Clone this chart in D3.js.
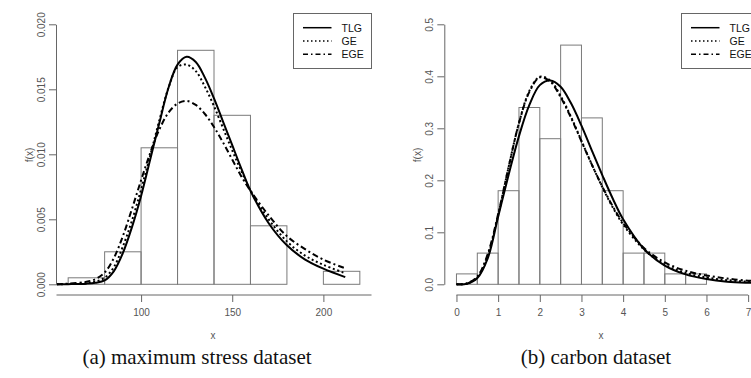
<!DOCTYPE html>
<html>
<head>
<meta charset="utf-8">
<script src="https://cdn.jsdelivr.net/npm/d3@7"></script>
<style>
  body { margin: 0; background: #fff; }
  svg { display: block; font-family: 'Liberation Sans', Arial, sans-serif; }
</style>
</head>
<body>
<svg id="chart" width="751" height="378"></svg>
<script>
// (a) maximum stress: histogram + fitted densities
const stressBins = [60, 80, 100, 120, 140, 160, 180, 200, 220]
const stressDensity = [0.0005, 0.0025, 0.0105, 0.018, 0.013, 0.0045, 0, 0.001]
const stressX = [53.6, 60, 70, 75, 80, 85, 90, 95, 100, 105, 110, 115, 120, 125, 130, 135, 140, 145, 150, 155, 160, 170, 180, 190, 200, 212]
const stressTLG = [0, 0.00001, 0.00005, 0.00012, 0.0003, 0.001, 0.0024, 0.0044, 0.0068, 0.0096, 0.0124, 0.0151, 0.0169, 0.0175, 0.0171, 0.0159, 0.0143, 0.0125, 0.0107, 0.0089, 0.0072, 0.0047, 0.003, 0.0019, 0.0012, 0.00055]
const stressGE = [0, 0.00002, 0.00008, 0.0002, 0.0005, 0.0013, 0.0029, 0.0049, 0.0073, 0.0099, 0.0126, 0.0151, 0.0167, 0.0169, 0.0164, 0.0152, 0.0137, 0.012, 0.0103, 0.0087, 0.0072, 0.005, 0.0033, 0.0022, 0.0015, 0.00085]
const stressEGE = [0, 0.00005, 0.0002, 0.0004, 0.0009, 0.002, 0.0037, 0.0058, 0.008, 0.0101, 0.0119, 0.0132, 0.0139, 0.0141, 0.0138, 0.0131, 0.0121, 0.0109, 0.0096, 0.0083, 0.0072, 0.0053, 0.0037, 0.0027, 0.0019, 0.00123]
const stressXTicks = [100, 150, 200]
const stressYTicks = [0, 0.005, 0.01, 0.015, 0.02]

// (b) carbon
const carbonBins = [0, 0.5, 1, 1.5, 2, 2.5, 3, 3.5, 4, 4.5, 5, 5.5, 6]
const carbonDensity = [0.02, 0.06, 0.18, 0.34, 0.28, 0.46, 0.32, 0.18, 0.06, 0.06, 0.02, 0.02]
const carbonX = [0, 0.25, 0.5, 0.75, 1, 1.25, 1.5, 1.75, 2, 2.25, 2.5, 2.75, 3, 3.25, 3.5, 3.75, 4, 4.5, 5, 5.5, 6, 6.5, 7, 7.28]
const carbonTLG = [0, 0.001, 0.012, 0.05, 0.13, 0.21, 0.285, 0.345, 0.383, 0.392, 0.38, 0.348, 0.305, 0.257, 0.21, 0.165, 0.125, 0.068, 0.036, 0.019, 0.01, 0.005, 0.003, 0.0025]
const carbonGE = [0, 0.001, 0.014, 0.055, 0.133, 0.225, 0.31, 0.372, 0.399, 0.392, 0.362, 0.322, 0.276, 0.23, 0.187, 0.148, 0.115, 0.067, 0.038, 0.022, 0.013, 0.008, 0.005, 0.0045]
const carbonEGE = [0, 0.002, 0.015, 0.058, 0.135, 0.225, 0.31, 0.37, 0.398, 0.39, 0.36, 0.32, 0.275, 0.23, 0.188, 0.15, 0.118, 0.07, 0.042, 0.026, 0.017, 0.011, 0.007, 0.006]
const carbonXTicks = [0, 1, 2, 3, 4, 5, 6, 7]
const carbonYTicks = [0, 0.1, 0.2, 0.3, 0.4, 0.5]

const legendNames = ['TLG', 'GE', 'EGE']
const dashes = [null, '2,2.6', '6,3,2,3']

const svg = d3.select('#chart')
const defs = svg.append('defs')

function drawPanel(o) {
  const x = d3.scaleLinear().domain(o.xDomain).range(o.xRange)
  const y = d3.scaleLinear().domain(o.yDomain).range([284.3, 24.3])
  const g = svg.append('g')
  const axisY = 295

  defs.append('clipPath').attr('id', o.id)
    .append('rect')
    .attr('x', o.xRange[0]).attr('y', 13.9)
    .attr('width', o.xRange[1] - o.xRange[0]).attr('height', 295 - 13.9)

  // histogram
  const bars = o.density.map((d, i) => ({ x0: o.bins[i], x1: o.bins[i + 1], d }))
  g.selectAll('.bar').data(bars).enter().append('rect')
    .attr('class', 'bar')
    .attr('x', d => x(d.x0))
    .attr('y', d => y(d.d))
    .attr('width', d => x(d.x1) - x(d.x0))
    .attr('height', d => y(0) - y(d.d))
    .attr('fill', 'none')
    .attr('stroke', '#7a7a7a')
    .attr('stroke-width', 1)

  // density curves
  const line = d3.line()
    .x(d => x(d[0]))
    .y(d => y(d[1]))
    .curve(d3.curveCatmullRom.alpha(0.5))
  o.series.forEach((s, i) => {
    g.append('path')
      .datum(o.xs.map((v, k) => [v, s[k]]))
      .attr('d', line)
      .attr('fill', 'none')
      .attr('stroke', '#000')
      .attr('stroke-width', 2)
      .attr('stroke-dasharray', dashes[i])
      .attr('clip-path', `url(#${o.id})`)
  })

  // x axis
  const xa = g.append('g').attr('transform', `translate(0,${axisY})`)
    .call(d3.axisBottom(x).tickValues(o.xTicks).tickSize(7).tickPadding(7).tickFormat(d3.format('d')))
  xa.select('.domain').remove()
  xa.append('line')
    .attr('x1', o.xLine ? x(o.xLine[0]) : o.xRange[0])
    .attr('x2', o.xLine ? x(o.xLine[1]) : o.xRange[1])
    .attr('stroke', '#666')
  xa.selectAll('.tick line').attr('stroke', '#666')
  xa.selectAll('text').attr('fill', '#555').attr('font-size', 10).attr('font-family', 'Liberation Sans, Arial, sans-serif')

  // y axis
  const ya = g.append('g').attr('transform', `translate(${o.xRange[0] - 0.5},0)`)
    .call(d3.axisLeft(y).tickValues(o.yTicks).tickSize(7).tickSizeOuter(0).tickFormat(d3.format(o.yFmt)))
  ya.select('.domain').attr('stroke', '#666')
  ya.selectAll('.tick line').attr('stroke', '#666')
  ya.selectAll('text')
    .attr('transform', 'rotate(-90)')
    .attr('x', 0).attr('y', -11).attr('dy', 0)
    .attr('text-anchor', 'middle')
    .attr('fill', '#555').attr('font-size', 10)
    .attr('font-family', 'Liberation Sans, Arial, sans-serif')

  // axis titles
  g.append('text')
    .attr('transform', `translate(${o.xRange[0] - 24},155) rotate(-90)`)
    .attr('text-anchor', 'middle')
    .attr('font-size', 10).attr('fill', '#555')
    .text('f(x)')
  g.append('text')
    .attr('x', o.xLabelX).attr('y', 339)
    .attr('text-anchor', 'middle')
    .attr('font-size', 10).attr('fill', '#555')
    .text('x')

  // legend
  const lg = g.append('g').attr('transform', `translate(${o.legendX},13.5)`)
  lg.append('rect').attr('width', 78).attr('height', 55)
    .attr('fill', '#fff').attr('stroke', '#666')
  legendNames.forEach((name, i) => {
    const ly = 14.2 + i * 13.3
    lg.append('line')
      .attr('x1', 9.5).attr('x2', 38)
      .attr('y1', ly).attr('y2', ly)
      .attr('stroke', '#000').attr('stroke-width', 1.5)
      .attr('stroke-dasharray', dashes[i] ? (i === 1 ? '1.5,2.5' : '5,3,1.5,3') : null)
    lg.append('text')
      .attr('x', 48).attr('y', ly)
      .attr('dominant-baseline', 'central')
      .attr('font-size', 10.5).attr('fill', '#111')
      .text(name)
  })

  // caption
  svg.append('text')
    .attr('x', o.captionX).attr('y', 364)
    .attr('text-anchor', 'middle')
    .attr('font-family', "'Liberation Serif', 'Times New Roman', serif")
    .attr('font-size', 21).attr('fill', '#111')
    .text(o.caption)
}

drawPanel({
  id: 'clipA', bins: stressBins, density: stressDensity, xs: stressX,
  series: [stressTLG, stressGE, stressEGE],
  xDomain: [53.6, 226.4], xRange: [56.5, 371.5], yDomain: [0, 0.02],
  xTicks: stressXTicks, yTicks: stressYTicks, yFmt: '.3f',
  xLabelX: 213, legendX: 293.5, captionX: 197, caption: '(a) maximum stress dataset'
})

drawPanel({
  id: 'clipB', bins: carbonBins, density: carbonDensity, xs: carbonX,
  series: [carbonTLG, carbonGE, carbonEGE],
  xDomain: [-0.28, 7.28], xRange: [444.8, 759.8], yDomain: [0, 0.5],
  xTicks: carbonXTicks, yTicks: carbonYTicks, yFmt: '.1f', xLine: [0, 7],
  xLabelX: 601, legendX: 681.5, captionX: 596, caption: '(b) carbon dataset'
})
</script>
</body>
</html>
